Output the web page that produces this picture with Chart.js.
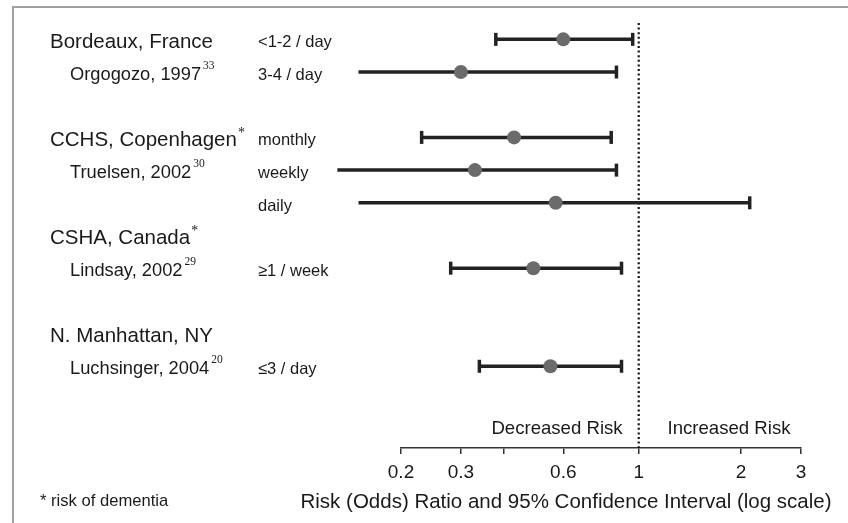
<!DOCTYPE html>
<html>
<head>
<meta charset="utf-8">
<script src="https://cdn.jsdelivr.net/npm/chart.js@4.4.1/dist/chart.umd.min.js"></script>
<style>
  body { margin: 0; background: #fff; }
  #wrap { position: relative; width: 848px; height: 523px; }
  #frame { position: absolute; left: 12px; top: 6px; right: 0; bottom: 0;
           border-top: 2px solid #a0a0a0; border-left: 2px solid #a0a0a0; pointer-events: none; }
</style>
</head>
<body>
<div id="wrap">
  <canvas id="my_Chart" width="848" height="523"></canvas>
  <div id="frame"></div>
</div>
<script>
// Data: one row per estimate
var doses = ['<1-2 / day', '3-4 / day', 'monthly', 'weekly', 'daily', '\u22651 / week', '\u22643 / day'];
var rows = [0, 1, 3, 4, 5, 7, 10];
var oddsRatio = [0.60, 0.30, 0.43, 0.33, 0.57, 0.49, 0.55];
var lowerCI = [0.38, 0.15, 0.23, 0.13, 0.15, 0.28, 0.34];
var upperCI = [0.96, 0.86, 0.83, 0.86, 2.12, 0.89, 0.89];

// Study labels
var studyNames = ['Bordeaux, France', 'CCHS, Copenhagen', 'CSHA, Canada', 'N. Manhattan, NY'];
var studyRows = [0, 3, 6, 9];
var studyStar = [false, true, true, false];
var authors = ['Orgogozo, 1997', 'Truelsen, 2002', 'Lindsay, 2002', 'Luchsinger, 2004'];
var authorRows = [1, 4, 7, 10];
var refs = ['33', '30', '29', '20'];

// x axis ticks (log scale)
var tickValues = [0.2, 0.3, 0.4, 0.6, 1, 2, 3];
var tickLabels = ['0.2', '0.3', '', '0.6', '1', '2', '3'];

var FONT = '"Liberation Sans", Arial, Helvetica, sans-serif';
var SERIF = '"Liberation Serif", "Times New Roman", serif';
var INK = '#1a1a1a';

var datasets = [];
// point estimates (first = drawn on top)
datasets.push({
    data: rows.map(function (r, i) { return { x: oddsRatio[i], y: r }; }),
    pointRadius: 7,
    pointBackgroundColor: '#6b6b6b',
    pointBorderWidth: 0,
    showLine: false,
    clip: false
});
// confidence intervals with caps (some run past 0.2, so no clipping)
rows.forEach(function (r, i) {
    datasets.push({
        data: [{ x: lowerCI[i], y: r }, { x: upperCI[i], y: r }],
        showLine: true,
        clip: false,
        borderColor: '#222',
        borderWidth: 3.5,
        pointStyle: 'line',
        rotation: 90,
        pointRadius: 6.5,
        pointBorderWidth: 3.5,
        pointBorderColor: '#222'
    });
});
// dotted no-effect line at OR = 1
datasets.push({
    data: [{ x: 1, y: -0.5 }, { x: 1, y: 12.5 }],
    showLine: true,
    borderColor: '#111',
    borderWidth: 2.2,
    borderDash: [2, 2.6],
    pointRadius: 0
});

// Text labels on the left and below the axis
var labelPlugin = {
    id: 'labels',
    afterDraw: function (chart) {
        var c = chart.ctx;
        var y = chart.scales.y;
        c.save();
        c.fillStyle = INK;
        c.textBaseline = 'middle';
        c.textAlign = 'left';

        studyNames.forEach(function (name, i) {
            var py = y.getPixelForValue(studyRows[i]) + 3;
            c.font = '20.5px ' + FONT;
            c.fillText(name, 50, py);
            if (studyStar[i]) {
                var w = c.measureText(name).width;
                c.font = '14px ' + SERIF;
                c.fillText('*', 50 + w + 1, py - 7);
            }
        });
        authors.forEach(function (name, i) {
            var py = y.getPixelForValue(authorRows[i]) + 3;
            c.font = '18.3px ' + FONT;
            c.fillText(name, 70, py);
            var w = c.measureText(name).width;
            c.font = '11.5px ' + SERIF;
            c.fillText(refs[i], 70 + w + 2, py - 9);
        });
        c.font = '16.5px ' + FONT;
        doses.forEach(function (d, i) {
            c.fillText(d, 258, y.getPixelForValue(rows[i]) + 3.5);
        });

        c.font = '18.6px ' + FONT;
        c.textAlign = 'center';
        c.fillText('Decreased Risk', 557, 429);
        c.fillText('Increased Risk', 729, 429);

        c.font = '20.5px ' + FONT;
        c.fillText('Risk (Odds) Ratio and 95% Confidence Interval (log scale)', 566, 502);

        c.textAlign = 'left';
        c.font = '16.6px ' + FONT;
        c.fillText('* risk of dementia', 40, 501);
        c.restore();
    }
};

var ctx = document.getElementById('my_Chart').getContext('2d');
var myChart = new Chart(ctx, {
    type: 'scatter',
    data: { datasets: datasets },
    options: {
        responsive: false,
        animation: false,
        layout: { padding: { left: 401, right: 47, top: 23, bottom: 0 } },
        plugins: { legend: { display: false }, tooltip: { enabled: false } },
        scales: {
            x: {
                type: 'logarithmic',
                position: 'bottom',
                min: 0.2,
                max: 3,
                afterBuildTicks: function (axis) {
                    axis.ticks = tickValues.map(function (v) { return { value: v }; });
                },
                afterFit: function (axis) { axis.height = 75; },
                border: { display: true, color: '#333', width: 1.5 },
                grid: { drawOnChartArea: false, drawTicks: true, tickLength: 6, color: '#333', lineWidth: 1.5 },
                ticks: {
                    autoSkip: false,
                    maxRotation: 0,
                    padding: 7,
                    color: INK,
                    font: { family: FONT, size: 19 },
                    callback: function (v, i) { return tickLabels[i]; }
                }
            },
            y: {
                type: 'linear',
                min: -0.5,
                max: 12.5,
                reverse: true,
                display: false
            }
        }
    },
    plugins: [labelPlugin]
});
</script>
</body>
</html>
